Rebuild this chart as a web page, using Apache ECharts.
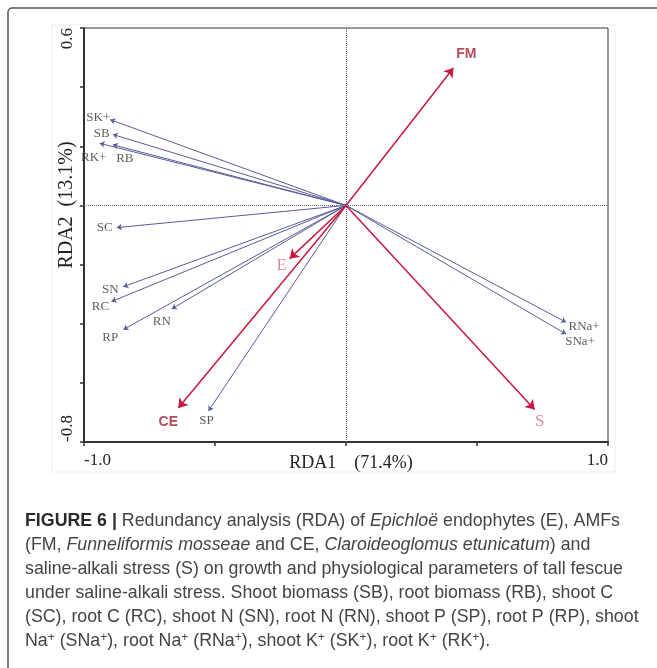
<!DOCTYPE html>
<html>
<head>
<meta charset="utf-8">
<script src="https://cdn.jsdelivr.net/npm/echarts@6/dist/echarts.min.js"></script>
<style>
  html, body { margin: 0; padding: 0; background: #fff; }
  #main { width: 657px; height: 668px; }
</style>
</head>
<body>
<div id="main"></div>
<script>
// response variables (blue arrows)
var respNames = ['SK+', 'SB', 'RK+', 'RB', 'SC', 'SN', 'RC', 'RN', 'RP', 'SP', 'RNa+', 'SNa+'];
var respX = [-0.90, -0.89, -0.94, -0.89, -0.875, -0.85, -0.895, -0.665, -0.85, -0.525, 0.84, 0.84];
var respY = [0.29, 0.24, 0.21, 0.205, -0.075, -0.275, -0.325, -0.35, -0.42, -0.695, -0.395, -0.435];

// explanatory variables (red arrows)
var envNames = ['E', 'FM', 'CE', 'S'];
var envX = [-0.215, 0.41, -0.64, 0.72];
var envY = [-0.18, 0.465, -0.685, -0.69];

// axis ticks
var xTickLabels = ['-1.0', '1.0'];
var yTickLabels = ['0.6', '-0.8'];

// label offsets in px (style, not data)
var labelOffset = {
  'SK+': [-12, -2], 'SB': [-11, -1], 'RK+': [-6, 14], 'RB': [12, 14],
  'SC': [-12, 0], 'SN': [-13, 3], 'RC': [-11, 5], 'RN': [-10, 13],
  'RP': [-13, 8], 'SP': [-2, 10], 'RNa+': [18, 4], 'SNa+': [14, 8],
  'E': [-8, 7], 'FM': [13, -14], 'CE': [-10, 14], 'S': [5, 12]
};

var myChart = echarts.init(document.getElementById('main'));

function arrows(xs, ys) {
  return xs.map(function (x, i) {
    return { coords: [[0, 0], [x, ys[i]]] };
  });
}

function labelPoints(names, xs, ys, style) {
  return names.map(function (n, i) {
    return {
      name: n,
      value: [xs[i], ys[i]],
      label: Object.assign({ offset: labelOffset[n] }, style(n))
    };
  });
}

var serif = 'Liberation Serif';

var respLabelStyle = function () {
  return { fontFamily: serif, fontSize: 13, color: '#333' };
};
var envLabelStyle = function (n) {
  if (n === 'FM' || n === 'CE') {
    return { fontFamily: 'Liberation Sans', fontWeight: 'bold', fontSize: 14, color: '#9e1f36' };
  }
  return { fontFamily: serif, fontSize: 17, color: '#d77082' };
};

function fmtTick(list) {
  return function (v) {
    for (var i = 0; i < list.length; i++) {
      if (Math.abs(parseFloat(list[i]) - v) < 1e-6) return list[i];
    }
    return '';
  };
}

// caption lines
var capLines = [
  '{b|FIGURE 6 |} Redundancy analysis (RDA) of {i|Epichloë} endophytes (E), AMFs',
  '(FM, {i|Funneliformis mosseae} and CE, {i|Claroideoglomus etunicatum}) and',
  'saline-alkali stress (S) on growth and physiological parameters of tall fescue',
  'under saline-alkali stress. Shoot biomass (SB), root biomass (RB), shoot C',
  '(SC), root C (RC), shoot N (SN), root N (RN), shoot P (SP), root P (RP), shoot',
  'Na{s|+} (SNa{s|+}), root Na{s|+} (RNa{s|+}), shoot K{s|+} (SK{s|+}), root K{s|+} (RK{s|+}).'
];

var capFont = 'Liberation Sans';
var capSize = 17.8;

var graphics = [{
  type: 'rect',
  shape: { x: 8, y: 8, width: 700, height: 700, r: 4 },
  style: { fill: 'none', stroke: '#555', lineWidth: 1.5 },
  silent: true
}, {
  type: 'rect',
  shape: { x: 52, y: 25, width: 563, height: 447 },
  style: { fill: 'none', stroke: '#f3f3f3', lineWidth: 1.5 },
  silent: true,
  z: -1
}];
capLines.forEach(function (t, i) {
  graphics.push({
    type: 'text',
    left: 25,
    top: 512 + i * 24,
    style: {
      text: t,
      fontFamily: capFont,
      fontSize: capSize,
      fill: '#444',
      rich: {
        b: { fontFamily: capFont, fontSize: capSize, fontWeight: 'bold', fill: '#2a2a2a' },
        i: { fontFamily: capFont, fontSize: capSize, fontStyle: 'italic', fill: '#444' },
        s: { fontFamily: capFont, fontSize: 12, fill: '#444', verticalAlign: 'top', padding: [0, 0, 7, 0] }
      }
    }
  });
});

var option = {
  animation: false,
  grid: {
    left: 84, right: 49, top: 28, bottom: 226,
    show: true, borderColor: '#333', borderWidth: 1
  },
  xAxis: {
    type: 'value',
    min: -1, max: 1, interval: 0.5,
    name: 'RDA1    (71.4%)',
    nameLocation: 'middle',
    nameGap: 12,
    nameMoveOverlap: false,
    nameTextStyle: { fontFamily: serif, fontSize: 18, color: '#222', verticalAlign: 'top', padding: [0, 0, 0, 10] },
    axisLine: { onZero: false, lineStyle: { color: '#333', width: 2 } },
    axisTick: { show: true, length: 4, lineStyle: { color: '#333', width: 1.5 } },
    axisLabel: {
      formatter: fmtTick(xTickLabels),
      fontFamily: serif, fontSize: 17, color: '#222', margin: 10,
      alignMinLabel: 'left', alignMaxLabel: 'right'
    },
    splitLine: { show: false }
  },
  yAxis: {
    type: 'value',
    min: -0.8, max: 0.6, interval: 0.2,
    name: 'RDA2  (13.1%)',
    nameLocation: 'middle',
    nameGap: 7,
    nameMoveOverlap: false,
    nameTextStyle: { fontFamily: serif, fontSize: 20, color: '#222', padding: [0, 0, 0, 60] },
    axisLine: { onZero: false, lineStyle: { color: '#333', width: 2 } },
    axisTick: { show: true, length: 4, lineStyle: { color: '#333', width: 1.5 } },
    axisLabel: {
      formatter: fmtTick(yTickLabels),
      rotate: 90,
      fontFamily: serif, fontSize: 17, color: '#222', margin: 8,
      alignMinLabel: 'left', alignMaxLabel: 'right'
    },
    splitLine: { show: false }
  },
  graphic: graphics,
  series: [
    {
      type: 'scatter',
      data: [],
      markLine: {
        silent: true,
        symbol: 'none',
        label: { show: false },
        lineStyle: { color: '#666', type: 'dotted', width: 1 },
        data: [{ xAxis: 0 }, { yAxis: 0 }]
      }
    },
    {
      name: 'response',
      type: 'lines',
      coordinateSystem: 'cartesian2d',
      symbol: ['none', 'arrow'],
      symbolSize: 5,
      lineStyle: { color: '#555d94', width: 1, opacity: 1 },
      data: arrows(respX, respY),
      z: 3
    },
    {
      name: 'explanatory',
      type: 'lines',
      coordinateSystem: 'cartesian2d',
      symbol: ['none', 'arrow'],
      symbolSize: 9,
      lineStyle: { color: '#c8173f', width: 1.5, opacity: 1 },
      data: arrows(envX, envY),
      z: 4
    },
    {
      type: 'scatter',
      symbolSize: 0,
      silent: true,
      label: { show: true, position: 'inside', formatter: '{b}' },
      data: labelPoints(respNames, respX, respY, respLabelStyle)
        .concat(labelPoints(envNames, envX, envY, envLabelStyle)),
      z: 5
    }
  ]
};

myChart.setOption(option);
</script>
</body>
</html>
